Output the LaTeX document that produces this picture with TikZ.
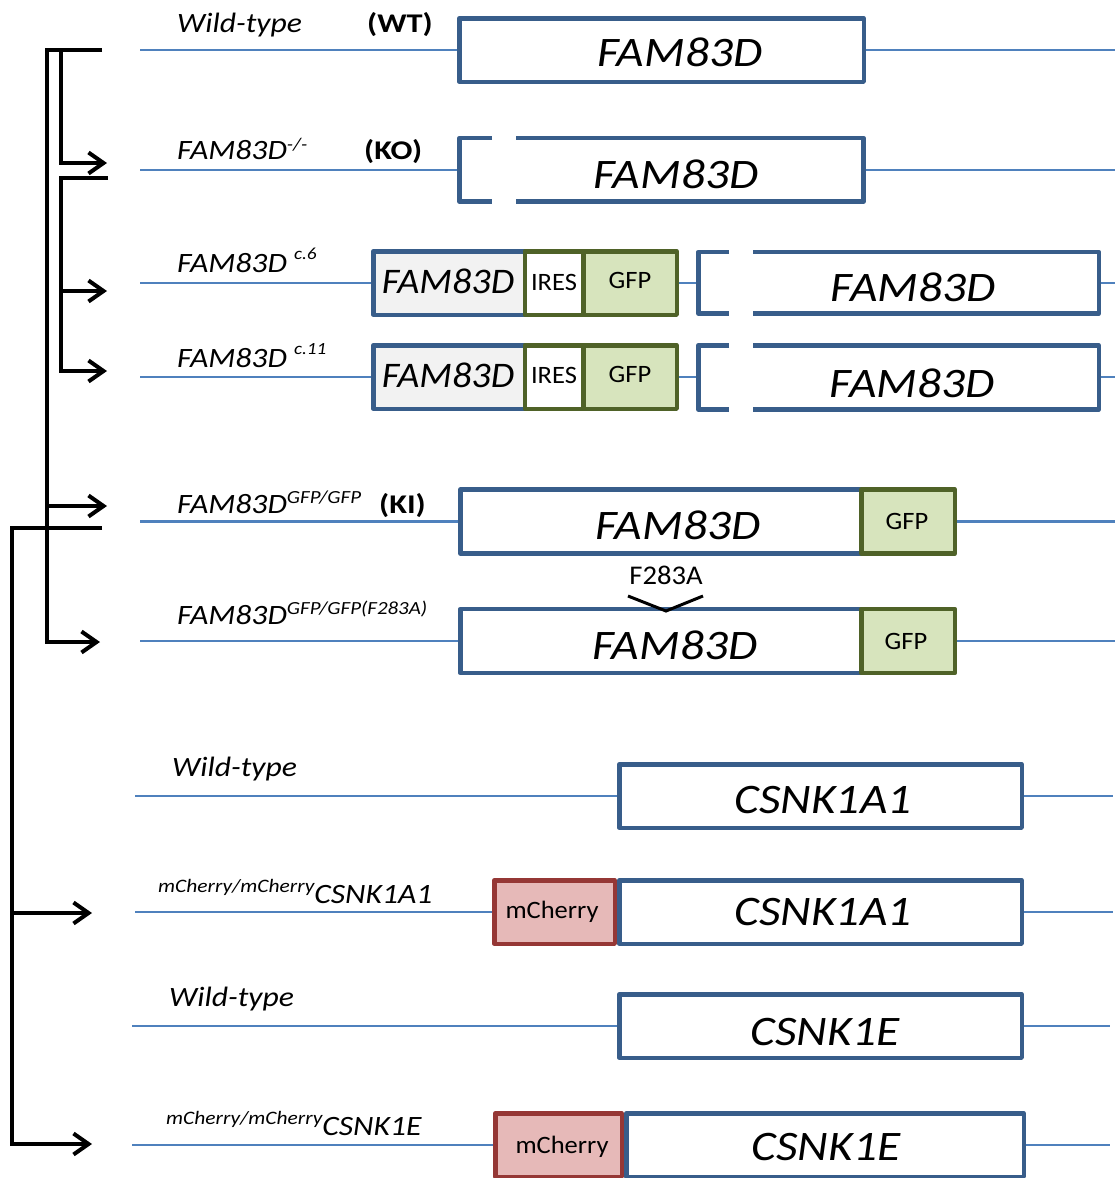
\documentclass[tikz,border=0pt]{standalone}
\usepackage{fontspec}
\setmainfont{Carlito}
\newfontfamily\wfont{Carlito}[FakeStretch=1.13]
\newfontfamily\rfont{Carlito}[FakeStretch=1.06]
\newfontfamily\bfont{Carlito}[FakeStretch=1.2]
\usetikzlibrary{arrows.meta}
\definecolor{boxblue}{HTML}{385D8A}
\definecolor{lineblue}{HTML}{4F81BD}
\definecolor{gfpgreen}{HTML}{4F6228}
\definecolor{gfpfill}{HTML}{D7E4BD}
\definecolor{grayfill}{HTML}{F2F2F2}
\definecolor{cherryred}{HTML}{953735}
\definecolor{cherryfill}{HTML}{E6B9B8}
\newcommand{\supx}[3][10pt]{\raisebox{#1}{\fontsize{#2}{#2}\selectfont #3}}
\begin{document}
\begin{tikzpicture}[x=1pt,y=-1pt,
  gl/.style={draw=lineblue, line width=2.6pt},
  edge/.style={draw=boxblue, line width=4.5pt, line join=round},
  genebox/.style={draw=boxblue, line width=4.5pt, fill=white, minimum height=63.5pt, inner sep=0pt, line join=round},
  grayfam/.style={genebox, fill=grayfill},
  greenbox/.style={draw=gfpgreen, line width=4.5pt, minimum height=63.5pt, inner sep=0pt, line join=round},
  gfpbox/.style={greenbox, fill=gfpfill},
  iresbox/.style={greenbox, fill=white},
  cherrybox/.style={draw=cherryred, line width=4.5pt, fill=cherryfill, minimum height=63.5pt, inner sep=0pt, line join=round},
  bigtxt/.style={font=\wfont\fontsize{42}{42}\selectfont\itshape, inner sep=0pt, anchor=base},
  midtxt/.style={font=\rfont\fontsize{36}{36}\selectfont\itshape, inner sep=0pt, anchor=base},
  smtxt/.style={font=\rfont\fontsize{25}{25}\selectfont, inner sep=0pt, anchor=base},
  lbl/.style={font=\wfont\fontsize{28}{28}\selectfont\itshape, inner sep=0pt, anchor=base west},
  bld/.style={font=\bfont\fontsize{27}{27}\selectfont\bfseries, inner sep=0pt, anchor=base west},
  br/.style={draw=black, line width=3.5pt},
  arr/.style={draw=black, line width=4pt, -{Straight Barb[length=15pt,width=21pt]}},
]
\useasboundingbox (0,0) rectangle (1115,1178);

% ---------- genomic lines: start/end coordinates ----------
\foreach \n/\y in {1/50,2/170,3/283,4/377,5/521.5,6/641}{
  \coordinate (s\n) at (140,\y);
  \coordinate (e\n) at (1115,\y);
}
\coordinate (s7) at (135,796);  \coordinate (e7) at (1113,796);
\coordinate (s8) at (135,912);  \coordinate (e8) at (1113,912);
\coordinate (s9) at (132,1026); \coordinate (e9) at (1110,1026);
\coordinate (s10) at (132,1145);\coordinate (e10) at (1110,1145);

% ---------- Row 1: wild-type FAM83D ----------
\node[genebox, minimum width=404.5pt] (b1) at (661.5,50) {};
\draw[gl] (s1) -- (b1.west);
\draw[gl] (b1.east) -- (e1);
\node[bigtxt] (t1) at (680,66) {FAM83D};
\node[lbl] (l1) at (177,32) {Wild-type};
\node[bld] (k1) at (367,32) {(WT)};

% ---------- Row 2: KO ----------
\coordinate (b2L) at (457.25,170);
\coordinate (b2R) at (865.75,170);
\draw[gl] (s2) -- (b2L);
\draw[gl] (b2R) -- (e2);
\draw[edge] (492,138) -- (459.5,138) -- (459.5,201.5) -- (492,201.5);
\draw[edge] (516,138) -- (863.5,138) -- (863.5,201.5) -- (516,201.5);
\node[bigtxt] (t2) at (676,188) {FAM83D};
\node[lbl] (l2) at (177,159) {FAM83D\supx[9pt]{18}{-/-}};
\node[bld] (k2) at (364,159) {(KO)};

% ---------- Row 3: c.6 ----------
\node[grayfam, minimum width=166pt] (g3) at (456.25,283) {};
\node[iresbox, minimum width=58.5pt] (i3) at (554,283) {};
\node[gfpbox, minimum width=93.5pt] (f3) at (630,283) {};
\coordinate (c3L) at (696,283);
\coordinate (c3R) at (1101,283);
\draw[gl] (s3) -- (g3.west);
\draw[gl] (f3.east) -- (c3L);
\draw[gl] (c3R) -- (e3);
\draw[edge] (729,252) -- (698.25,252) -- (698.25,313.5) -- (729,313.5);
\draw[edge] (753,252) -- (1098.75,252) -- (1098.75,313.5) -- (753,313.5);
\node[midtxt] (gt3) at (448,293) {FAM83D};
\node[smtxt] (it3) at (554,290) {IRES};
\node[smtxt] (ft3) at (630,288) {GFP};
\node[bigtxt] (t3) at (913,301) {FAM83D};
\node[lbl] (l3) at (177,272) {FAM83D \supx[13pt]{17}{c.6}};

% ---------- Row 4: c.11 ----------
\node[grayfam, minimum width=166pt] (g4) at (456.25,377) {};
\node[iresbox, minimum width=58.5pt] (i4) at (554,377) {};
\node[gfpbox, minimum width=93.5pt] (f4) at (630,377) {};
\coordinate (c4L) at (696,377);
\coordinate (c4R) at (1101,377);
\draw[gl] (s4) -- (g4.west);
\draw[gl] (f4.east) -- (c4L);
\draw[gl] (c4R) -- (e4);
\draw[edge] (729,345.25) -- (698.25,345.25) -- (698.25,409.25) -- (729,409.25);
\draw[edge] (753,345.25) -- (1098.75,345.25) -- (1098.75,409.25) -- (753,409.25);
\node[midtxt] (gt4) at (448,387) {FAM83D};
\node[smtxt] (it4) at (554,383) {IRES};
\node[smtxt] (ft4) at (630,382) {GFP};
\node[bigtxt] (t4) at (912,397) {FAM83D};
\node[lbl] (l4) at (177,367) {FAM83D \supx[13pt]{17}{c.11}};

% ---------- Row 5: KI ----------
\node[genebox, minimum width=401pt, minimum height=64pt] (b5) at (660.75,521.5) {};
\node[gfpbox, minimum width=93.5pt, minimum height=64pt] (f5) at (908,521.5) {};
\draw[gl] (s5) -- (b5.west);
\draw[gl] (f5.east) -- (e5);
\node[bigtxt] (t5) at (678,539) {FAM83D};
\node[smtxt] (ft5) at (907,529) {GFP};
\node[lbl] (l5) at (177,513) {FAM83D\supx{18.5}{GFP/GFP}};
\node[bld] (k5) at (379,513) {(KI)};

% ---------- Row 6: F283A ----------
\node[genebox, minimum width=401pt, minimum height=64pt] (b6) at (660.75,641) {};
\node[gfpbox, minimum width=93.5pt, minimum height=64pt] (f6) at (908,641) {};
\draw[gl] (s6) -- (b6.west);
\draw[gl] (f6.east) -- (e6);
\node[bigtxt] (t6) at (675,659) {FAM83D};
\node[smtxt] (ft6) at (906,649) {GFP};
\node[lbl] (l6) at (177,624) {FAM83D\supx{18.5}{GFP/GFP(F283A)}};
\node[font=\rfont\fontsize{27}{27}\selectfont, inner sep=0pt, anchor=base] (mut) at (666,584) {F283A};
\coordinate (mL) at (628,596);
\coordinate (mA) at (666,611);
\coordinate (mR) at (703,596);
\draw[br, line width=3pt] (mL) -- (mA) -- (mR);

% ---------- Row 7: CSNK1A1 WT ----------
\node[genebox, minimum width=402.5pt] (b7) at (820.5,796) {};
\draw[gl] (s7) -- (b7.west);
\draw[gl] (b7.east) -- (e7);
\node[bigtxt] (t7) at (823,813) {CSNK1A1};
\node[lbl] (l7) at (172,776) {Wild-type};

% ---------- Row 8: mCherry CSNK1A1 ----------
\node[cherrybox, minimum width=120.5pt] (m8) at (554.5,912) {};
\node[genebox, minimum width=402.5pt] (b8) at (820.5,912) {};
\draw[gl] (s8) -- (m8.west);
\draw[gl] (b8.east) -- (e8);
\node[smtxt] (mt8) at (552,918) {mCherry};
\node[bigtxt] (t8) at (823,925) {CSNK1A1};
\node[lbl] (l8) at (158,903) {\supx[11pt]{19}{mCherry/mCherry}CSNK1A1};

% ---------- Row 9: CSNK1E WT ----------
\node[genebox, minimum width=402.5pt] (b9) at (820.5,1026) {};
\draw[gl] (s9) -- (b9.west);
\draw[gl] (b9.east) -- (e9);
\node[bigtxt] (t9) at (825,1045) {CSNK1E};
\node[lbl] (l9) at (169,1006) {Wild-type};

% ---------- Row 10: mCherry CSNK1E ----------
\node[cherrybox, minimum width=126.5pt] (m10) at (558.5,1145) {};
\node[genebox, minimum width=397.5pt] (b10) at (825,1145) {};
\draw[gl] (s10) -- (m10.west);
\draw[gl] (b10.east) -- (e10);
\node[smtxt] (mt10) at (562,1153) {mCherry};
\node[bigtxt] (t10) at (826,1160) {CSNK1E};
\node[lbl] (l10) at (166,1135) {\supx[11pt]{19}{mCherry/mCherry}CSNK1E};

% ---------- lineage brackets ----------
\coordinate (wtA) at (102,50);
\coordinate (wtB) at (47,50);
\coordinate (wtC) at (61,50);
\coordinate (wtD) at (47,642);
\coordinate (koA) at (108,178);
\coordinate (koB) at (61,178);
\coordinate (kiA) at (102,528);
\coordinate (kiB) at (12,528);
\coordinate (aKO) at (107,163);
\coordinate (aC6) at (107,291);
\coordinate (aC11) at (107,371);
\coordinate (aKI) at (107,506);
\coordinate (aMut) at (100,642);
\coordinate (aM1) at (92,913);
\coordinate (aM2) at (92,1144);

\draw[br] (wtA) -- (wtB) -- (wtD);
\draw[br] (wtC) -- (61,163);
\draw[arr] (59.25,163) -- (aKO);
\draw[arr] (47,506) -- (aKI);
\draw[arr] (45.25,642) -- (aMut);
\draw[br] (koA) -- (koB) -- (61,371);
\draw[arr] (61,291) -- (aC6);
\draw[arr] (59.25,371) -- (aC11);
\draw[br] (kiA) -- (kiB) -- (12,1144);
\draw[arr] (12,913) -- (aM1);
\draw[arr] (10.25,1144) -- (aM2);
\end{tikzpicture}
\end{document}
